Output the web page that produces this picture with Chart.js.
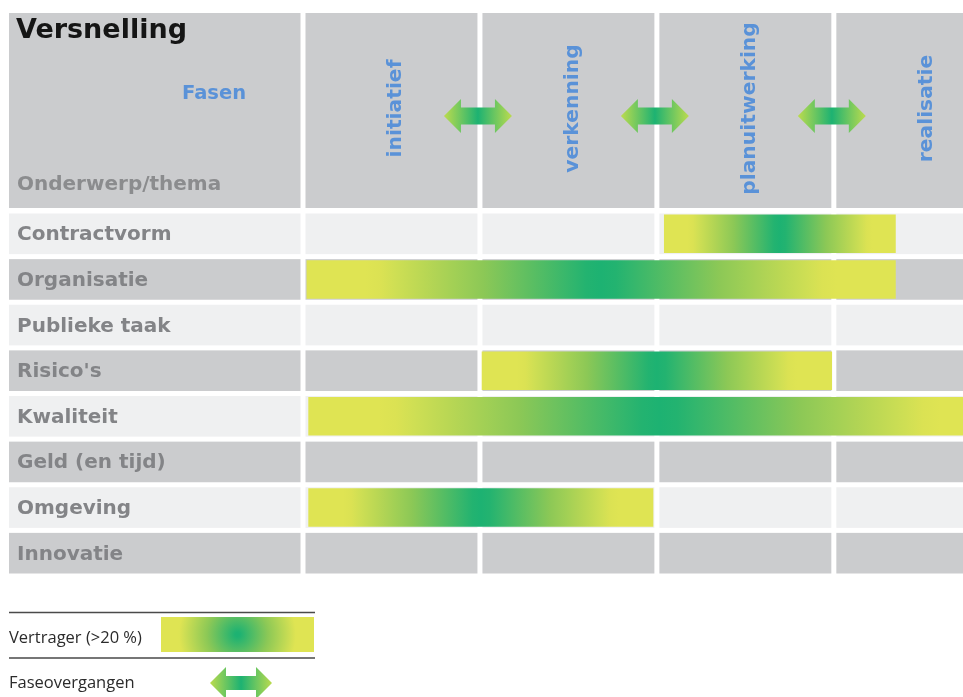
<!DOCTYPE html>
<html>
<head>
<meta charset="utf-8">
<script src="https://cdn.jsdelivr.net/npm/chart.js@4/dist/chart.umd.min.js"></script>
<style>
  html, body { margin: 0; padding: 0; background: #ffffff; }
  #wrap { width: 963px; height: 697px; position: relative; }
</style>
</head>
<body>
<div id="wrap"><canvas id="c" width="963" height="697"></canvas></div>
<script>
// ---- data ----
const title = 'Versnelling';
const phaseHeader = 'Fasen';
const topicHeader = 'Onderwerp/thema';
const topics = ['Contractvorm', 'Organisatie', 'Publieke taak', "Risico's", 'Kwaliteit', 'Geld (en tijd)', 'Omgeving', 'Innovatie'];
const phases = ['initiatief', 'verkenning', 'planuitwerking', 'realisatie'];
// delay bars, in phase units (0 = start of "initiatief")
const delayStart = [2.04, 0.02, null, 1.01, 0.03, null, 0.03, null];
const delayEnd   = [3.35, 3.35, null, 2.99, 4.00, null, 1.98, null];
// phase transitions (arrows)
const transitions = [1, 2, 3];
const legendLabels = ['Vertrager (>20 %)', 'Faseovergangen'];

// ---- styles ----
const DARK = '#cbccce', LIGHT = '#eff0f1';
const BLUE = '#5a92d8';
const YEL = [223, 228, 83], LIME = [140, 200, 86], GRN = [29, 178, 114];

function mix(a, b, t) { return a.map((v, i) => Math.round(v + (b[i] - v) * t)); }
function colAt(s) { // s: 0 = yellow, 1 = green
  const c = s < 0.5 ? mix(YEL, LIME, s / 0.5) : mix(LIME, GRN, (s - 0.5) / 0.5);
  return 'rgb(' + c.join(',') + ')';
}
function profile(d) { // d: 0 = centre, 1 = end of bar
  const t = Math.min(1, Math.max(0, (d - 0.03) / 0.74));
  return 1 - t;
}
function barGradient(ctx, x0, x1) {
  const g = ctx.createLinearGradient(x0, 0, x1, 0);
  const n = 40;
  for (let k = 0; k <= n; k++) {
    const t = k / n, d = Math.abs(t - 0.5) * 2;
    g.addColorStop(t, colAt(profile(d)));
  }
  return g;
}
function radialGradient(ctx, cx, cy, r) {
  const g = ctx.createRadialGradient(cx, cy, 0, cx, cy, r);
  const n = 30;
  for (let k = 0; k <= n; k++) g.addColorStop(k / n, colAt(profile(k / n)));
  return g;
}
function arrowPath(ctx, cx, cy, w, h, sh, hl) {
  const l = cx - w / 2, r = cx + w / 2;
  ctx.beginPath();
  ctx.moveTo(l, cy);
  ctx.lineTo(l + hl, cy - h / 2);
  ctx.lineTo(l + hl, cy - sh / 2);
  ctx.lineTo(r - hl, cy - sh / 2);
  ctx.lineTo(r - hl, cy - h / 2);
  ctx.lineTo(r, cy);
  ctx.lineTo(r - hl, cy + h / 2);
  ctx.lineTo(r - hl, cy + sh / 2);
  ctx.lineTo(l + hl, cy + sh / 2);
  ctx.lineTo(l + hl, cy + h / 2);
  ctx.closePath();
}
function drawArrow(ctx, cx, cy, w, h, sh, hl) {
  const g = ctx.createLinearGradient(cx - w / 2, 0, cx + w / 2, 0);
  g.addColorStop(0, '#bcdb4e');
  g.addColorStop(0.5, 'rgb(29,178,114)');
  g.addColorStop(1, '#bcdb4e');
  arrowPath(ctx, cx, cy, w, h, sh, hl);
  ctx.fillStyle = g;
  ctx.fill();
}

const tablePlugin = {
  id: 'table',
  beforeDatasetsDraw(chart) {
    const { ctx, chartArea, scales: { x, y } } = chart;
    const band = (chartArea.bottom - chartArea.top) / topics.length;
    const cellH = band - 5;
    const labLeft = 9, labRight = x.getPixelForValue(0) - 2.5;
    ctx.save();
    // header cells
    const hTop = 13, hBot = chartArea.top - 3;
    ctx.fillStyle = DARK;
    ctx.fillRect(labLeft, hTop, labRight - labLeft, hBot - hTop);
    for (let i = 0; i < phases.length; i++) {
      const a = x.getPixelForValue(i) + 2.5;
      const b = Math.min(x.getPixelForValue(i + 1) - 2.5, chartArea.right);
      ctx.fillRect(a, hTop, b - a, hBot - hTop);
    }
    // row cells + topic labels
    topics.forEach((t, r) => {
      const cy = y.getPixelForValue(r);
      ctx.fillStyle = r % 2 === 0 ? LIGHT : DARK;
      ctx.fillRect(labLeft, cy - cellH / 2, labRight - labLeft, cellH);
      for (let i = 0; i < phases.length; i++) {
        const a = x.getPixelForValue(i) + 2.5;
        const b = Math.min(x.getPixelForValue(i + 1) - 2.5, chartArea.right);
        ctx.fillRect(a, cy - cellH / 2, b - a, cellH);
      }
      ctx.fillStyle = '#838487';
      ctx.font = 'bold 20px "DejaVu Sans"';
      ctx.textAlign = 'left';
      ctx.textBaseline = 'alphabetic';
      ctx.fillText(t, 17, cy + 6.5);
    });
    // header texts
    ctx.fillStyle = '#151515';
    ctx.font = 'bold 27px "DejaVu Sans"';
    ctx.fillText(title, 16, 38);
    ctx.fillStyle = BLUE;
    ctx.font = 'bold 19.5px "DejaVu Sans"';
    ctx.textAlign = 'center';
    ctx.fillText(phaseHeader, 214, 99);
    ctx.textAlign = 'left';
    ctx.fillStyle = '#8b8c8e';
    ctx.font = 'bold 20px "DejaVu Sans"';
    ctx.fillText(topicHeader, 17, 190);
    // phase labels (rotated, reading upward)
    ctx.fillStyle = BLUE;
    ctx.font = 'bold 20.3px "DejaVu Sans"';
    phases.forEach((p, i) => {
      const cx = x.getPixelForValue(i + 0.5);
      ctx.save();
      ctx.translate(cx + 10, 108.5);
      ctx.rotate(-Math.PI / 2);
      ctx.textAlign = 'center';
      ctx.textBaseline = 'alphabetic';
      ctx.fillText(p, 0, 0);
      ctx.restore();
    });
    // transition arrows
    transitions.forEach(v => {
      drawArrow(ctx, x.getPixelForValue(v) - 2, 116, 68, 34, 17, 17);
    });
    ctx.restore();
  },
  afterDraw(chart) {
    const { ctx } = chart;
    ctx.save();
    ctx.strokeStyle = '#4a4a4a';
    ctx.lineWidth = 1.3;
    ctx.beginPath();
    ctx.moveTo(9, 612.5); ctx.lineTo(315, 612.5);
    ctx.moveTo(9, 658); ctx.lineTo(315, 658);
    ctx.stroke();
    ctx.fillStyle = '#2b2b2b';
    ctx.font = '16.5px "Open Sans"';
    ctx.textAlign = 'left';
    ctx.textBaseline = 'alphabetic';
    ctx.fillText(legendLabels[0], 9, 643);
    ctx.fillText(legendLabels[1], 9, 688);
    ctx.fillStyle = radialGradient(ctx, 237.5, 634.5, 76);
    ctx.fillRect(161, 617, 153, 35);
    drawArrow(ctx, 241, 683, 62, 32, 14, 16);
    ctx.restore();
  }
};

const ctx = document.getElementById('c').getContext('2d');
new Chart(ctx, {
  type: 'bar',
  data: {
    labels: topics,
    datasets: [{
      label: legendLabels[0],
      data: topics.map((t, i) => delayStart[i] == null ? null : [delayStart[i], delayEnd[i]]),
      backgroundColor: (c) => {
        const chart = c.chart;
        if (!chart.chartArea || c.type !== 'data' || !c.raw) return 'rgb(29,178,114)';
        const xs = chart.scales.x;
        return barGradient(chart.ctx, xs.getPixelForValue(c.raw[0]), xs.getPixelForValue(c.raw[1]));
      },
      borderWidth: 0,
      borderSkipped: false,
      barPercentage: 0.845,
      categoryPercentage: 1
    }]
  },
  options: {
    indexAxis: 'y',
    responsive: false,
    animation: false,
    layout: { padding: { left: 303, right: 0, top: 211, bottom: 121 } },
    scales: {
      x: { type: 'linear', min: 0, max: 3.73, display: false },
      y: { type: 'category', display: false }
    },
    plugins: { legend: { display: false }, tooltip: { enabled: false } }
  },
  plugins: [tablePlugin]
});
</script>
</body>
</html>
